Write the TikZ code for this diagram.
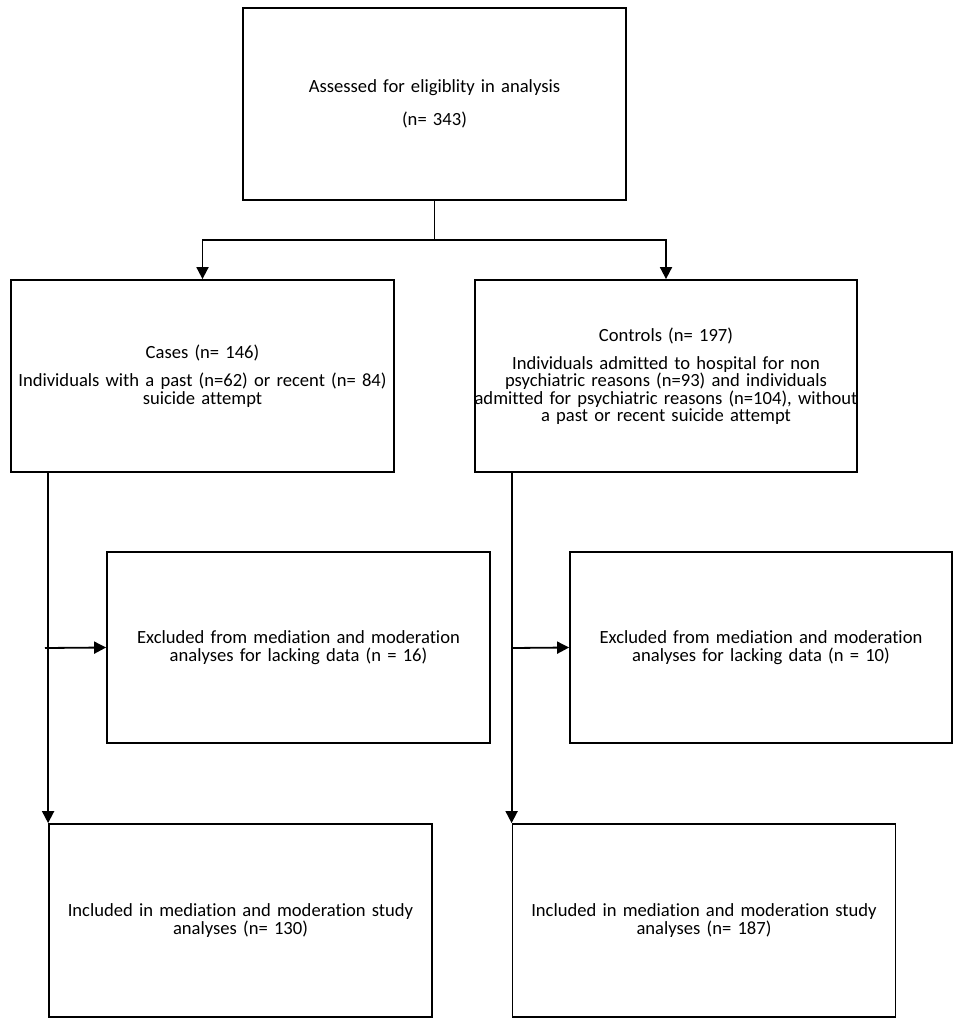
\documentclass[tikz,border=0pt]{standalone}
\usepackage{fontspec}
\setmainfont{Carlito}[Ligatures=NoCommon]
\usetikzlibrary{arrows.meta,positioning,calc}
\tikzstyle{box} = [rectangle, draw=black, line width=1.8pt, minimum width=383pt, minimum height=192pt, inner sep=0pt, text width=382pt, align=center, font=\fontsize{18.6}{17.5}\selectfont]
\tikzstyle{arrow} = [line width=1.8pt,-{Triangle[length=12pt,width=12pt]}]
\tikzstyle{line} = [line width=1.8pt]

\begin{document}
\begin{tikzpicture}[x=1pt,y=-1pt]
\useasboundingbox (0,0) rectangle (957,1025);
\draw (434.5,104) node (assessed) [box] {Assessed for eligiblity in analysis\\[15.5pt](n= 343)};
\draw (202.5,376) node (cases) [box] {Cases (n= 146)\\[10.5pt]Individuals with a past (n=62) or recent (n= 84)\\[1pt]suicide attempt};
\draw (666,376) node (controls) [box, minimum width=382pt] {Controls (n= 197)\\[10.5pt]Individuals admitted to hospital for non\\psychiatric reasons (n=93) and individuals\\\makebox[\linewidth]{admitted for psychiatric reasons (n=104), without}\\a past or recent suicide attempt};
\draw (298.5,647.5) node (exclcases) [box, minimum height=191pt] {Excluded from mediation and moderation\\analyses for lacking data (n = 16)};
\draw (761,647.5) node (exclcontrols) [box, minimum width=382pt, minimum height=191pt] {Excluded from mediation and moderation\\analyses for lacking data (n = 10)};
\draw (240.5,920.5) node (inclcases) [box, minimum height=193pt] {Included in mediation and moderation study\\analyses (n= 130)};
\draw (704,920.5) node (inclcontrols) [box, minimum height=193pt] {Included in mediation and moderation study\\analyses (n= 187)};
%split below the top box
\coordinate (split) at (434.5,240);
\draw[line] (assessed.south) -- (split);
\draw[arrow] (split) -| (cases.north);
\draw[arrow] (split) -| (controls.north);
%left column
\draw[arrow] (cases.south -| inclcases.west) -- (inclcases.north west);
\coordinate (lstub) at (45,648);
\draw[arrow] (lstub) -- (exclcases.west);
%right column
\draw[arrow] (controls.south -| inclcontrols.west) -- (inclcontrols.north west);
\coordinate (rstub) at (512,648);
\draw[arrow] (rstub) -- (exclcontrols.west);
\end{tikzpicture}
\end{document}
